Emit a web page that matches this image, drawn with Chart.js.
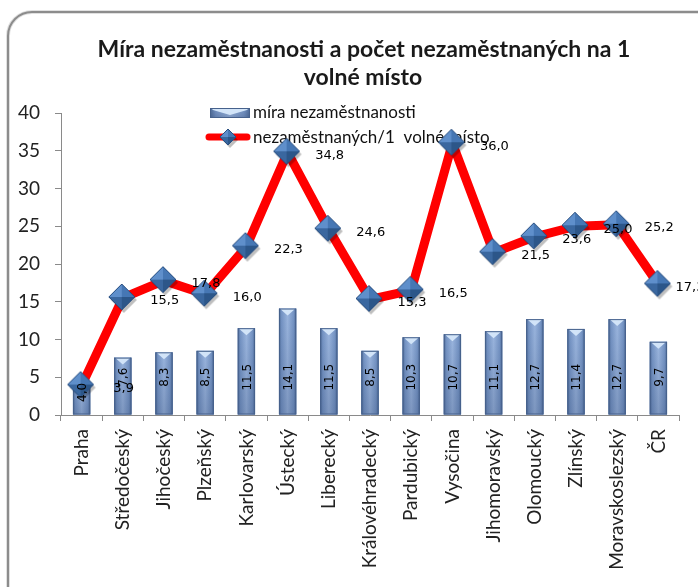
<!DOCTYPE html>
<html>
<head>
<meta charset="utf-8">
<script src="https://cdn.jsdelivr.net/npm/chart.js@4/dist/chart.umd.min.js"></script>
<style>
  html, body { margin: 0; padding: 0; background: #fff; overflow: hidden; width: 698px; height: 587px; }
  #wrap { position: absolute; left: 0; top: 0; width: 702px; height: 587px; }
</style>
</head>
<body>
<div id="wrap"><canvas id="c" width="702" height="587"></canvas></div>
<script>
// ---- DATA ----
const categories = ['Praha','Středočeský','Jihočeský','Plzeňský','Karlovarský','Ústecký','Liberecký','Královéhradecký','Pardubický','Vysočina','Jihomoravský','Olomoucký','Zlínský','Moravskoslezský','ČR'];
const unemploymentRate = [4.0, 7.6, 8.3, 8.5, 11.5, 14.1, 11.5, 8.5, 10.3, 10.7, 11.1, 12.7, 11.4, 12.7, 9.7];
const unemployedPerVacancy = [3.9, 15.5, 17.8, 16.0, 22.3, 34.8, 24.6, 15.3, 16.5, 36.0, 21.5, 23.6, 25.0, 25.2, 17.3];
const seriesNames = ['míra nezaměstnanosti', 'nezaměstnaných/1  volné místo'];
const titleLines = ['Míra nezaměstnanosti a počet nezaměstnaných na 1', 'volné místo'];
const yMin = 0, yMax = 40, yStep = 5;

const fmt = v => v.toFixed(1).replace('.', ',');
const UI_FONT = 'Lato, "Open Sans", sans-serif';
const LBL_FONT = '"DejaVu Sans", Verdana, sans-serif';

// pyramid diamond marker
function makeDiamond(r) {
  const pad = 4, s = r * 2 + pad * 2;
  const cv = document.createElement('canvas');
  cv.width = s; cv.height = s;
  const g = cv.getContext('2d');
  const c = s / 2 - 1;
  g.fillStyle = 'rgba(0,0,0,0.25)';
  g.beginPath();
  g.moveTo(c + 2, c - r + 3); g.lineTo(c + r + 2, c + 3); g.lineTo(c + 2, c + r + 3); g.lineTo(c - r + 2, c + 3);
  g.closePath(); g.fill();
  const T = [c, c - r], R = [c + r, c], B = [c, c + r], L = [c - r, c], C = [c, c];
  const facet = (a, b, col) => { g.fillStyle = col; g.beginPath(); g.moveTo(C[0], C[1]); g.lineTo(a[0], a[1]); g.lineTo(b[0], b[1]); g.closePath(); g.fill(); };
  facet(L, T, '#5f8fcb');
  facet(T, R, '#4677b4');
  facet(R, B, '#2c5689');
  facet(B, L, '#3a679f');
  g.strokeStyle = '#2a4f80'; g.lineWidth = 1;
  g.beginPath(); g.moveTo(T[0], T[1]); g.lineTo(R[0], R[1]); g.lineTo(B[0], B[1]); g.lineTo(L[0], L[1]); g.closePath(); g.stroke();
  return cv;
}
const diamondBig = makeDiamond(13);
const diamondSmall = makeDiamond(8);

function drawBarShape(ctx, x0, x1, yTop, yBot) {
  const w = x1 - x0;
  const gr = ctx.createLinearGradient(x0, 0, x1, 0);
  gr.addColorStop(0, '#4e6b98');
  gr.addColorStop(0.15, '#7594c4');
  gr.addColorStop(0.5, '#9ab5de');
  gr.addColorStop(0.85, '#7594c4');
  gr.addColorStop(1, '#4e6b98');
  ctx.fillStyle = gr;
  ctx.fillRect(x0, yTop, w, yBot - yTop);
  const gv = ctx.createLinearGradient(0, yTop, 0, yBot);
  gv.addColorStop(0, 'rgba(40,60,100,0)');
  gv.addColorStop(1, 'rgba(40,60,100,0.25)');
  ctx.fillStyle = gv;
  ctx.fillRect(x0, yTop, w, yBot - yTop);
  const capH = Math.min(7, (yBot - yTop));
  ctx.fillStyle = '#d2e4f8';
  ctx.beginPath();
  ctx.moveTo(x0 + 1, yTop);
  ctx.lineTo(x1 - 1, yTop);
  ctx.lineTo(x1 - 3, yTop + 2);
  ctx.lineTo((x0 + x1) / 2, yTop + capH);
  ctx.lineTo(x0 + 3, yTop + 2);
  ctx.closePath();
  ctx.fill();
  ctx.strokeStyle = '#46618c';
  ctx.lineWidth = 1;
  ctx.strokeRect(x0 + 0.5, yTop + 0.5, w - 1, yBot - yTop - 1);
}

const decoPlugin = {
  id: 'deco',
  beforeDraw(chart) {
    const ctx = chart.ctx;
    ctx.save();
    ctx.fillStyle = '#fff';
    ctx.fillRect(0, 0, chart.width, chart.height);
    const x = 8, y = 12, w = 760, h = 640, r = 24;
    ctx.strokeStyle = 'rgba(0,0,0,0.12)';
    ctx.lineWidth = 4;
    ctx.beginPath();
    ctx.moveTo(x + r, y); ctx.lineTo(x + w, y); ctx.lineTo(x + w, y + h); ctx.lineTo(x, y + h); ctx.lineTo(x, y + r);
    ctx.arcTo(x, y, x + r, y, r);
    ctx.stroke();
    ctx.strokeStyle = '#8c8c8c';
    ctx.lineWidth = 2;
    ctx.stroke();
    ctx.fillStyle = '#1a1a1a';
    ctx.font = 'bold 23px ' + UI_FONT;
    ctx.textAlign = 'center';
    ctx.textBaseline = 'alphabetic';
    ctx.fillText(titleLines[0], 364, 57);
    ctx.fillText(titleLines[1], 363, 85);
    ctx.restore();
  },
  beforeDatasetsDraw(chart) {
    const ctx = chart.ctx;
    ctx.save();
    drawBarShape(ctx, 210, 250, 108, 118);
    ctx.strokeStyle = '#ff0000';
    ctx.lineWidth = 7;
    ctx.lineCap = 'round';
    ctx.beginPath(); ctx.moveTo(209, 137); ctx.lineTo(247, 137); ctx.stroke();
    ctx.drawImage(diamondSmall, 228 - diamondSmall.width / 2 + 1, 137 - diamondSmall.height / 2 + 1);
    ctx.fillStyle = '#111';
    ctx.font = '17px ' + UI_FONT;
    ctx.textAlign = 'left';
    ctx.textBaseline = 'middle';
    ctx.fillText(seriesNames[0], 253, 113);
    ctx.fillText(seriesNames[1], 253, 138);
    ctx.restore();
  },
  afterDatasetDraw(chart, args) {
    const ctx = chart.ctx;
    const ds = chart.data.datasets[args.index];
    if (ds.type !== 'bar') return;
    ctx.save();
    args.meta.data.forEach((el) => {
      const p = el.getProps(['x', 'y', 'base', 'width'], true);
      drawBarShape(ctx, p.x - p.width / 2, p.x + p.width / 2, p.y, p.base);
    });
    ctx.restore();
  },
  afterDatasetsDraw(chart) {
    const ctx = chart.ctx;
    const yScale = chart.scales.y;
    ctx.save();
    // bar labels (rotated)
    const bMeta = chart.getDatasetMeta(1);
    const bds = chart.data.datasets[1];
    ctx.fillStyle = '#000';
    ctx.font = '12px ' + LBL_FONT;
    ctx.textAlign = 'center';
    ctx.textBaseline = 'middle';
    bMeta.data.forEach((el, i) => {
      const p = el.getProps(['x'], true);
      const v = bds.data[i];
      const cy = yScale.getPixelForValue(Math.min(v * 0.75, 5));
      ctx.save();
      ctx.translate(p.x, cy);
      ctx.rotate(-Math.PI / 2);
      ctx.fillText(fmt(v), 0, 1);
      ctx.restore();
    });
    // line labels
    const meta = chart.getDatasetMeta(0);
    const ds = chart.data.datasets[0];
    ctx.font = '13px ' + LBL_FONT;
    meta.data.forEach((el, i) => {
      const p = el.getProps(['x', 'y'], true);
      const lx = Math.min(p.x + 42, 690);
      ctx.fillText(fmt(ds.data[i]), lx, p.y + 3);
    });
    ctx.restore();
  }
};

new Chart(document.getElementById('c'), {
  data: {
    labels: categories,
    datasets: [
      {
        type: 'line',
        label: seriesNames[1],
        data: unemployedPerVacancy,
        order: 0,
        borderColor: '#ff0000',
        borderWidth: 9,
        borderJoinStyle: 'bevel',
        tension: 0,
        pointStyle: diamondBig,
        pointRadius: 14,
        pointHoverRadius: 14
      },
      {
        type: 'bar',
        label: seriesNames[0],
        data: unemploymentRate,
        order: 1,
        backgroundColor: '#7d9bcb',
        borderWidth: 0,
        barPercentage: 0.42,
        categoryPercentage: 1
      }
    ]
  },
  options: {
    responsive: false,
    animation: false,
    devicePixelRatio: 1,
    layout: { padding: { top: 113, left: 0, right: 1, bottom: 0 } },
    plugins: { legend: { display: false }, title: { display: false }, tooltip: { enabled: false } },
    scales: {
      x: {
        offset: true,
        grid: { offset: true, drawOnChartArea: false, drawTicks: true, tickLength: 6, color: '#8a8a8a' },
        border: { display: true, color: '#8a8a8a' },
        ticks: { minRotation: 90, maxRotation: 90, autoSkip: false, padding: 8, color: '#222', font: { family: UI_FONT, size: 19 } },
        afterFit(s) { s.height = 172; }
      },
      y: {
        min: yMin, max: yMax,
        grid: { drawOnChartArea: false, drawTicks: true, tickLength: 6, color: '#8a8a8a' },
        border: { display: true, color: '#8a8a8a' },
        ticks: { stepSize: yStep, padding: 15, color: '#222', font: { family: UI_FONT, size: 19 } },
        afterFit(s) { s.width = 61; }
      }
    }
  },
  plugins: [decoPlugin]
});
</script>
</body>
</html>
